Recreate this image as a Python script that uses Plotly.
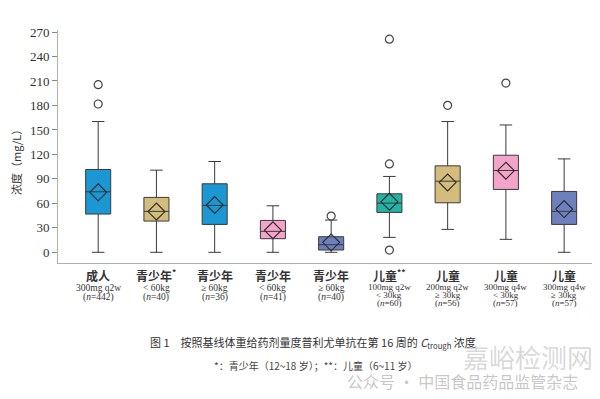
import plotly.graph_objects as go

# ---- data ----
names = ["成人", "青少年<sup>*</sup>", "青少年", "青少年", "青少年",
         "儿童<sup>**</sup>", "儿童", "儿童", "儿童"]
details = [
    ["300mg q2w", "(<i>n</i>=442)"],
    ["< 60kg", "(<i>n</i>=40)"],
    ["≥ 60kg", "(<i>n</i>=36)"],
    ["< 60kg", "(<i>n</i>=41)"],
    ["≥ 60kg", "(<i>n</i>=40)"],
    ["100mg q2w", "< 30kg", "(<i>n</i>=60)"],
    ["200mg q2w", "≥ 30kg", "(<i>n</i>=56)"],
    ["300mg q4w", "< 30kg", "(<i>n</i>=57)"],
    ["300mg q4w", "≥ 30kg", "(<i>n</i>=57)"],
]
lower = [0, 0, 0, 0, 0, 18.3, 28.1, 15.9, 0]
q1 = [46.9, 38.3, 34.2, 16.7, 2.8, 48.9, 60.7, 77.1, 34.2]
median = [74.2, 50.2, 57.5, 25.7, 9.3, 60.3, 87.2, 100.3, 50.2]
q3 = [101.5, 67.3, 84.0, 39.1, 19.1, 71.7, 106.0, 119.0, 74.6]
upper = [160.3, 100.7, 111.3, 57.0, 39.5, 93.0, 160.3, 156.1, 114.5]
means = [73.5, 50.0, 58.0, 27.0, 12.2, 61.9, 85.6, 100.0, 53.0]
outliers = [[205.5, 181.8], [], [], [], [44.4], [261.3, 108.4, 2.8], [180.2], [207.5], []]
colors = ["#1b97d4", "#d4bd7c", "#1b97d4", "#f4a4c8", "#6e7fbe",
          "#22b3a6", "#d4bd7c", "#f4a4c8", "#6e7fbe"]
yticks = [0, 30, 60, 90, 120, 150, 180, 210, 240, 270]

# the page body adds an 8px offset; work in window pixels and compensate
OFF = 8
W, H = 600 - OFF, 399 - OFF
L, R = 58 - OFF, 595 - OFF
top, bottom = 30 - OFF, 263 - OFF


def py(px):  # window pixel row -> paper y
    return (bottom - (px - OFF)) / (bottom - top)


def pxx(px):  # window pixel col -> paper x
    return ((px - OFF) - L) / (R - L)


fig = go.Figure()
xs = list(range(len(names)))
for i in xs:
    fig.add_trace(go.Box(
        x=[i], q1=[q1[i]], median=[median[i]], q3=[q3[i]],
        lowerfence=[lower[i]], upperfence=[upper[i]],
        fillcolor=colors[i], line=dict(color="#3a3a3a", width=1),
        width=0.43, whiskerwidth=0.5, boxpoints=False, showlegend=False,
    ))

ox, oy = [], []
for i, vals in enumerate(outliers):
    for v in vals:
        ox.append(i)
        oy.append(v)
fig.add_trace(go.Scatter(x=ox, y=oy, mode="markers", showlegend=False,
                         marker=dict(symbol="circle-open", size=8,
                                     color="#444", line=dict(width=1.2))))
fig.add_trace(go.Scatter(x=xs, y=means, mode="markers", showlegend=False,
                         marker=dict(symbol="diamond-open", size=13,
                                     color="#2a2a2a", line=dict(width=1.1))))

serif = "Liberation Serif, Times New Roman, serif"
cjk = "Noto Sans CJK SC"
for i in xs:
    fig.add_annotation(x=i, xref="x", y=py(275.2), yref="paper",
                       xanchor="center", yanchor="middle",
                       text="<b>" + names[i] + "</b>", showarrow=False,
                       font=dict(size=12, color="#333", family=cjk))
    d = details[i]
    if len(d) == 2:
        ys, fs = [288.0, 297.5], 9.5
    else:
        ys, fs = [286.6, 294.9, 303.2], 9
    for line, yy in zip(d, ys):
        fig.add_annotation(x=i, xref="x", y=py(yy), yref="paper",
                           xanchor="center", yanchor="middle",
                           text=line, showarrow=False,
                           font=dict(size=fs, color="#333", family=serif))

# y-axis title
fig.add_annotation(xref="paper", yref="paper", x=pxx(16), y=py(160),
                   xanchor="center", yanchor="middle",
                   text="浓度（mg/L）", textangle=-90, showarrow=False,
                   font=dict(size=11, family=cjk, color="#333"))

# caption
fig.add_annotation(xref="paper", yref="paper", x=pxx(313), y=py(342),
                   xanchor="center", yanchor="middle", showarrow=False,
                   text="图 1　按照基线体重给药剂量度普利尤单抗在第 16 周的 <i>C</i><sub>trough</sub> 浓度",
                   font=dict(size=11, color="#333", family=cjk))
fig.add_annotation(xref="paper", yref="paper", x=pxx(315), y=py(365),
                   xanchor="center", yanchor="middle", showarrow=False,
                   text="*：青少年（12~18 岁）；**：儿童（6~11 岁）",
                   font=dict(size=10, color="#444", family=cjk))
# watermarks
fig.add_annotation(xref="paper", yref="paper", x=pxx(528), y=py(356),
                   xanchor="center", yanchor="middle", showarrow=False,
                   text="嘉峪检测网",
                   font=dict(size=26, color="rgba(170,170,170,0.45)", family=cjk))
fig.add_annotation(xref="paper", yref="paper", x=pxx(462), y=py(381),
                   xanchor="center", yanchor="middle", showarrow=False,
                   text="公众号 · 中国食品药品监管杂志",
                   font=dict(size=16, color="rgba(150,150,150,0.55)", family=cjk))

fig.update_layout(
    width=W, height=H,
    margin=dict(l=L, r=W - R, t=top, b=H - bottom, autoexpand=False),
    plot_bgcolor="white", paper_bgcolor="white",
    font=dict(family=serif, color="#333"),
)
fig.update_xaxes(range=[-0.69, 8.53], showticklabels=False, showgrid=False,
                 zeroline=False, showline=True, linecolor="#b0b0b0", linewidth=1,
                 ticks="", automargin=False)
fig.update_yaxes(range=[-13.1, 272.5], tickvals=yticks, showgrid=False,
                 zeroline=False, showline=True, linecolor="#b0b0b0", linewidth=1,
                 ticks="outside", ticklen=5, tickcolor="#888", automargin=False,
                 tickfont=dict(size=13, family=serif, color="#333"))

fig.write_html("out.html")
